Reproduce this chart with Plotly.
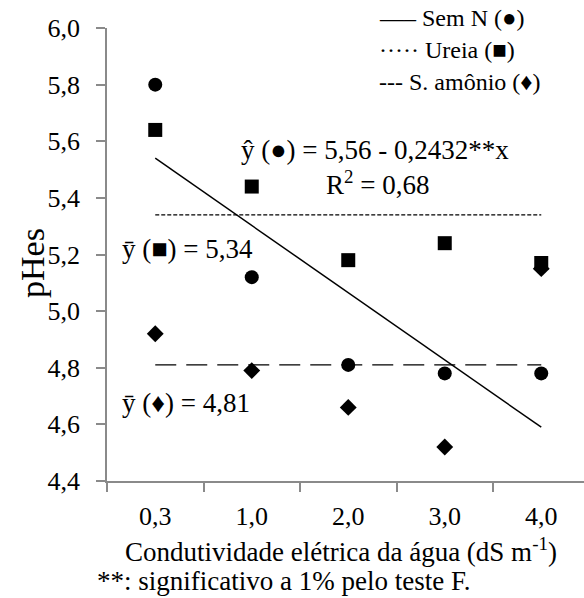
import plotly.graph_objects as go

# ---------------- data ----------------
categories = ["0,3", "1,0", "2,0", "3,0", "4,0"]
sem_n = [5.80, 5.12, 4.81, 4.78, 4.78]        # circles
ureia = [5.64, 5.44, 5.18, 5.24, 5.17]        # squares
s_amonio = [4.92, 4.79, 4.66, 4.52, 5.15]     # diamonds
ureia_mean = 5.34
amonio_mean = 4.81
trend_x = ["0,3", "4,0"]
trend_y = [5.54, 4.59]
y_ticks = [4.4, 4.6, 4.8, 5.0, 5.2, 5.4, 5.6, 5.8, 6.0]
y_tick_labels = ["4,4", "4,6", "4,8", "5,0", "5,2", "5,4", "5,6", "5,8", "6,0"]

# ---------------- layout geometry ----------------
W, H = 584, 598
L, R, T, B = 107, 0, 28, 117
PW, PH = W - L - R, H - T - B
FONT = "Liberation Serif, Times New Roman, Times, serif"
AXIS_COLOR = "#8a8a8a"


def px(x):
    return (x - L) / PW


def py(y):
    return (H - B - y) / PH


fig = go.Figure()

# mean lines
fig.add_trace(go.Scatter(x=[categories[0], categories[-1]], y=[ureia_mean, ureia_mean],
                         mode="lines", line=dict(color="black", width=1.4, dash="4px,2px"),
                         showlegend=False, hoverinfo="skip"))
fig.add_trace(go.Scatter(x=[categories[0], categories[-1]], y=[amonio_mean, amonio_mean],
                         mode="lines", line=dict(color="black", width=1.4, dash="21px,10px"),
                         showlegend=False, hoverinfo="skip"))
# regression line
fig.add_trace(go.Scatter(x=trend_x, y=trend_y, mode="lines",
                         line=dict(color="black", width=1.5),
                         showlegend=False, hoverinfo="skip"))

# markers
fig.add_trace(go.Scatter(x=categories, y=s_amonio, mode="markers",
                         marker=dict(symbol="diamond", size=13, color="black"),
                         showlegend=False))
fig.add_trace(go.Scatter(x=categories, y=sem_n, mode="markers",
                         marker=dict(symbol="circle", size=14, color="black"),
                         showlegend=False))
fig.add_trace(go.Scatter(x=categories, y=ureia, mode="markers",
                         marker=dict(symbol="square", size=14, color="black"),
                         showlegend=False))

ann = []


def add_text(text, x, y, size, xanchor="left", yanchor="middle", angle=0):
    ann.append(dict(text=text, x=px(x), y=py(y), xref="paper", yref="paper",
                    xanchor=xanchor, yanchor=yanchor, showarrow=False, textangle=angle,
                    font=dict(family=FONT, size=size, color="black")))


# legend (as text)
add_text("—– Sem N (●)", 377, 18, 24)
add_text("····· Ureia (■)", 377, 50, 24)
add_text("--- S. amônio (♦)", 377, 82, 24)

# equations
add_text("ŷ (●) = 5,56 - 0,2432**x", 239, 150, 27)
add_text("R<sup>2</sup> = 0,68", 324, 183, 27)
add_text("ȳ (■) = 5,34", 120, 249, 27)
add_text("ȳ (♦) = 4,81", 120, 403, 27)

# axis titles / footnote
add_text("pHes", 32, 263, 34, xanchor="center", angle=-90)
add_text("Condutividade elétrica da água (dS m<sup>-1</sup>)", 341, 550, 27, xanchor="center")
add_text("**: significativo a 1% pelo teste F.", 284, 581, 27, xanchor="center")

fig.update_layout(
    width=W, height=H,
    margin=dict(l=L, r=R, t=T, b=B),
    paper_bgcolor="white", plot_bgcolor="white",
    annotations=ann,
    font=dict(family=FONT, color="black"),
    showlegend=False,
)

fig.update_xaxes(
    type="category", categoryorder="array", categoryarray=categories,
    range=[-0.5, 4.443], tickson="boundaries",
    ticks="outside", ticklen=9, tickwidth=1.5, tickcolor=AXIS_COLOR,
    showline=True, linecolor=AXIS_COLOR, linewidth=1.5,
    showgrid=False, zeroline=False, ticklabelstandoff=11,
    tickfont=dict(family=FONT, size=26, color="black"),
)
fig.update_yaxes(
    range=[4.4, 6.0], tickmode="array", tickvals=y_ticks, ticktext=y_tick_labels,
    ticks="outside", ticklen=9, tickwidth=1.5, tickcolor=AXIS_COLOR,
    showline=True, linecolor=AXIS_COLOR, linewidth=1.5,
    showgrid=False, zeroline=False, ticklabelstandoff=11,
    tickfont=dict(family=FONT, size=26, color="black"),
)

fig.write_html("out.html")
